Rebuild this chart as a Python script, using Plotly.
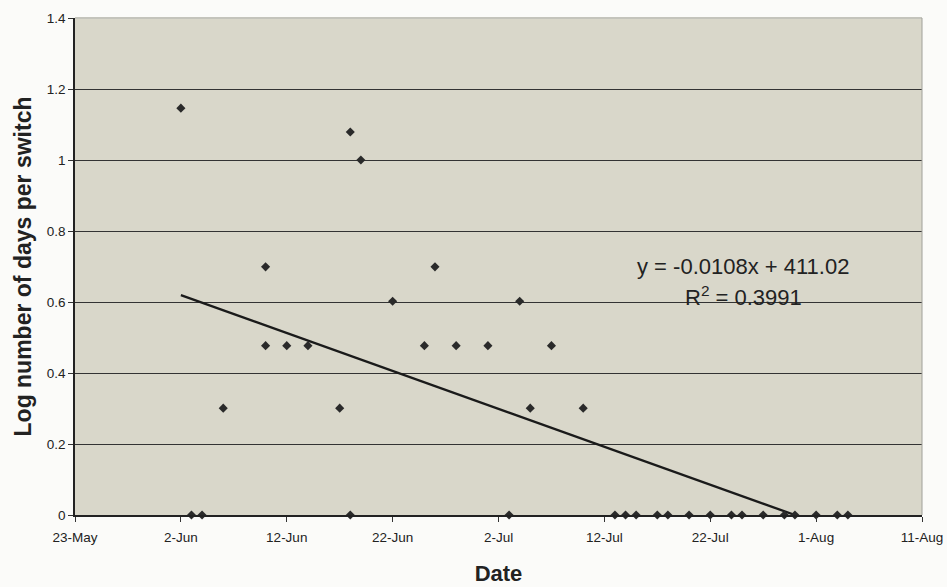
import numpy as np
import pandas as pd
import plotly.graph_objects as go

# ---- data (log10 of days per switch) ----
dates_nonzero = ["2004-06-02", "2004-06-06", "2004-06-10", "2004-06-10", "2004-06-12",
                 "2004-06-14", "2004-06-17", "2004-06-18", "2004-06-19", "2004-06-22",
                 "2004-06-25", "2004-06-26", "2004-06-28", "2004-07-01", "2004-07-04",
                 "2004-07-05", "2004-07-07", "2004-07-10"]
values_nonzero = [1.146, 0.301, 0.699, 0.477, 0.477,
                  0.477, 0.301, 1.079, 1.0, 0.602,
                  0.477, 0.699, 0.477, 0.477, 0.602,
                  0.301, 0.477, 0.301]
dates_zero = ["2004-06-03", "2004-06-04", "2004-06-18", "2004-07-03", "2004-07-13",
              "2004-07-14", "2004-07-15", "2004-07-17", "2004-07-18", "2004-07-20",
              "2004-07-22", "2004-07-24", "2004-07-25", "2004-07-27", "2004-07-29",
              "2004-07-30", "2004-08-01", "2004-08-03", "2004-08-04"]
values_zero = [0.0] * len(dates_zero)

x_tick_start = "2004-05-23"
x_range = ["2004-05-23", "2004-08-11"]
y_ticks = [0, 0.2, 0.4, 0.6, 0.8, 1.0, 1.2, 1.4]
eq_text = "y = -0.0108x + 411.02"
r2_text = "R<sup>2</sup> = 0.3991"

# ---- combine & fit trend line ----
all_dates = pd.to_datetime(dates_nonzero + dates_zero)
all_vals = np.array(values_nonzero + values_zero)
order = np.argsort(all_dates.values)
all_dates = all_dates[order]
all_vals = all_vals[order]
days = (all_dates - all_dates.min()).days.values.astype(float)
slope, intercept = np.polyfit(days, all_vals, 1)
trend_x = [all_dates.min(), all_dates.max()]
trend_y = [intercept, intercept + slope * days.max()]

FONT = "Liberation Sans, Arial, sans-serif"

fig = go.Figure()
fig.add_trace(go.Scatter(
    x=trend_x, y=trend_y, mode="lines",
    line=dict(color="#1a1a1a", width=2.3), showlegend=False, hoverinfo="skip"))
fig.add_trace(go.Scatter(
    x=all_dates, y=all_vals, mode="markers",
    marker=dict(symbol="diamond", size=7, color="#2a2a2a"),
    showlegend=False, cliponaxis=False))

fig.add_annotation(text=eq_text, xref="paper", yref="paper", x=0.789, y=0.50,
                   xanchor="center", yanchor="middle",
                   showarrow=False, font=dict(family=FONT, size=22, color="#222"))
fig.add_annotation(text=r2_text, xref="paper", yref="paper", x=0.789, y=0.44,
                   xanchor="center", yanchor="middle",
                   showarrow=False, font=dict(family=FONT, size=22, color="#222"))

fig.update_layout(
    width=947, height=587,
    margin=dict(l=75, r=25, t=18, b=72, autoexpand=False),
    paper_bgcolor="#fbfbf9",
    plot_bgcolor="#d9d7ca",
    font=dict(family=FONT, color="#222"),
    xaxis=dict(
        type="date", range=x_range, tick0=x_tick_start, dtick=10 * 86400000,
        tickformat="%-d-%b", ticks="outside", ticklen=5, tickcolor="#333",
        tickfont=dict(size=13.5), showgrid=False, zeroline=False,
        showline=True, linecolor="#222", linewidth=1.5,
        ticklabelstandoff=4, automargin=False,
        title=dict(text="<b>Date</b>", font=dict(size=22), standoff=22),
    ),
    yaxis=dict(
        range=[0, 1.4], tickvals=y_ticks, ticktext=[f"{v:g}" for v in y_ticks],
        ticks="outside", ticklen=5, tickcolor="#333", tickfont=dict(size=13.5),
        showgrid=True, gridcolor="#333333", gridwidth=1, zeroline=False,
        showline=True, linecolor="#222", linewidth=1.5, automargin=False,
        title=dict(text="<b>Log number of days per switch</b>", font=dict(size=23), standoff=9),
    ),
)
# light plot border on top and right
fig.add_shape(type="line", xref="paper", yref="paper", x0=0, x1=1, y0=1, y1=1,
              line=dict(color="#c4c4bc", width=2))
fig.add_shape(type="line", xref="paper", yref="paper", x0=1, x1=1, y0=0, y1=1,
              line=dict(color="#a0a09a", width=1))

fig.write_html("out.html", config={"displayModeBar": False},
               post_script="document.body.style.margin='0';document.body.style.overflow='hidden';")
